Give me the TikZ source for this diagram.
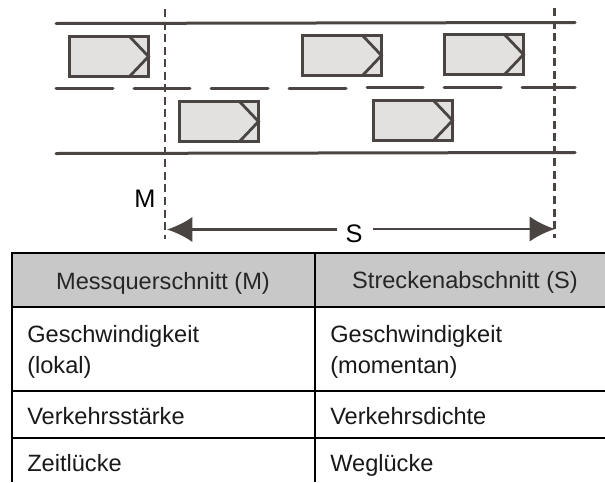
\documentclass[tikz,border=0pt]{standalone}
\usepackage{fontspec}
\setmainfont{Liberation Sans}
\usetikzlibrary{arrows.meta}
\definecolor{ink}{HTML}{4A4542}
\definecolor{carfill}{HTML}{E2E1DF}
\definecolor{headfill}{HTML}{C8C8C8}
\tikzset{
  road/.style={draw=ink,line width=2.25pt,line cap=round},
  section/.style={draw=ink,line width=2pt,dash pattern=on 6pt off 3.4pt},
  dim/.style={draw=ink,line width=2pt,-{Latex[length=19pt,width=19pt,fill=ink]}},
  carbody/.style={draw=ink,line width=2.25pt,fill=carfill,line join=miter},
  rule/.style={draw=black,line width=1.5pt},
  celltext/.style={anchor=base west,inner sep=0pt,font=\fontsize{17.7pt}{21pt}\selectfont,text=black!90},
  headtext/.style={anchor=base,inner sep=0pt,font=\fontsize{17.7pt}{21pt}\selectfont,text=black!85},
  lab/.style={anchor=base,inner sep=0pt,font=\fontsize{19pt}{22pt}\selectfont,text=black}
}
\newcommand{\car}[2]{%
  \draw[carbody] (#1,#2) rectangle (#1+79,#2+40);
  \draw[draw=ink,line width=2.1pt] (#1+60,#2) -- (#1+79,#2+20) -- (#1+60,#2+40);
}
\begin{document}
\begin{tikzpicture}[x=0.75pt,y=-0.75pt]
\useasboundingbox (0,0) rectangle (605,482);
\fill[white] (0,0) rectangle (605,482);
% roads
\draw[road] (56,23.5) -- (575,22.5);
\draw[road] (56,153.5) -- (575,152.5);
\foreach \a/\b/\y in {56/113/88.5,134/190/88.5,211/268/88.5,289/346/88.5,367/423/87.5,444/501/87.5,522/575/87.5}
  \draw[road] (\a,\y) -- (\b,\y);
% cars
\car{69.5}{36.5}
\car{179.5}{101.5}
\car{302.5}{35.5}
\car{444.5}{34.5}
\car{373.5}{100.5}
% section lines
\coordinate (mt) at (165,9);
\coordinate (mb) at (165,239);
\coordinate (st) at (554.5,8);
\coordinate (sb) at (554.5,238);
\draw[section] (mt) -- (mb);
\draw[section] (st) -- (sb);
\node[lab] (mlabel) at (145,207) {M};
\node[lab] (slabel) at (354,242) {S};
\coordinate (al) at (167,229.5);
\coordinate (ar) at (555,229);
\coordinate (alstart) at (337,229.5);
\coordinate (arstart) at (373,229);
\draw[dim] (alstart) -- (al);
\draw[dim] (arstart) -- (ar);
% table
\fill[headfill] (12,253) rectangle (605,307);
\draw[rule] (605,253) -- (12,253) -- (12,482);
\draw[rule] (315,253) -- (315,482);
\draw[rule] (12,307) -- (605,307);
\draw[rule] (12,391) -- (605,391);
\draw[rule] (12,438) -- (605,438);
\node[headtext] (h1) at (163,289) {Messquerschnitt (M)};
\node[headtext] (h2) at (465,288.5) {Streckenabschnitt (S)};
\node[celltext] (a1) at (27,342) {Geschwindigkeit};
\node[celltext] (a2) at (27,373) {(lokal)};
\node[celltext] (b1) at (330,342) {Geschwindigkeit};
\node[celltext] (b2) at (330,373) {(momentan)};
\node[celltext] (a3) at (27,424) {Verkehrsstärke};
\node[celltext] (b3) at (330,424) {Verkehrsdichte};
\node[celltext] (a4) at (27,471) {Zeitlücke};
\node[celltext] (b4) at (330,471) {Weglücke};
\end{tikzpicture}
\end{document}
